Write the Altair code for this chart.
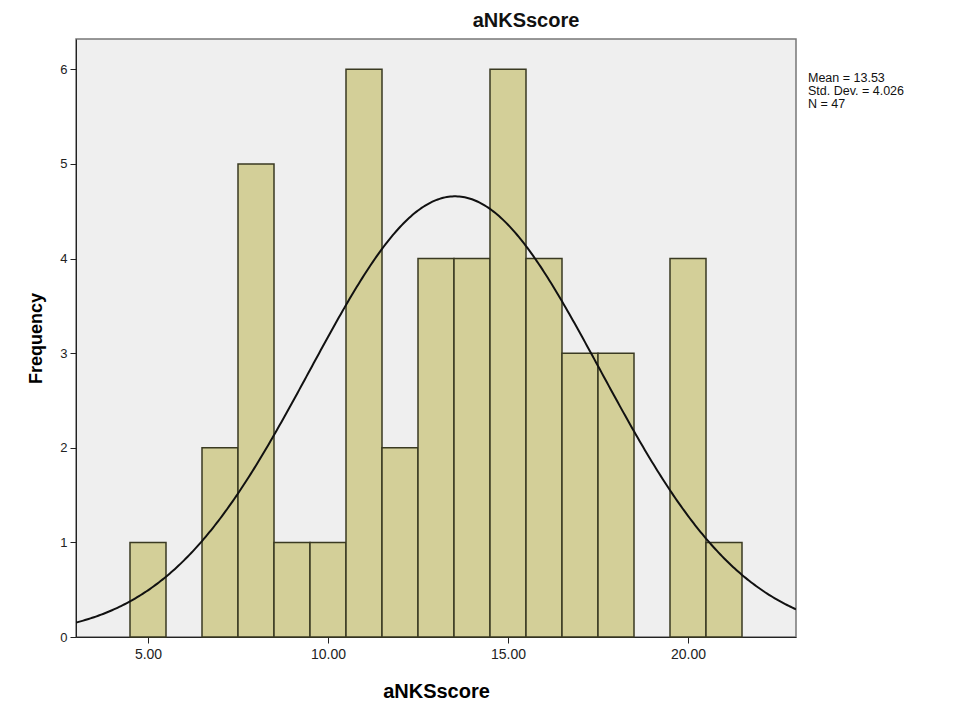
import altair as alt
import pandas as pd

# Histogram data (bin width 1, centered on integers)
bin_centers = [5, 7, 8, 9, 10, 11, 12, 13, 14, 15, 16, 17, 18, 20, 21]
counts = [1, 2, 5, 1, 1, 6, 2, 4, 4, 6, 4, 3, 3, 4, 1]
x_ticks = [5, 10, 15, 20]
y_ticks = [0, 1, 2, 3, 4, 5, 6]
stat_lines = ["Mean = 13.53", "Std. Dev. = 4.026", "N = 47"]
mean_val = 13.53
sd_val = 4.026
n_val = 47

FONT = "Liberation Sans"

bars_df = pd.DataFrame({
    "start": [c - 0.5 for c in bin_centers],
    "end": [c + 0.5 for c in bin_centers],
    "count": counts,
})

xscale = alt.Scale(domain=[3, 23], nice=False, zero=False)
yscale = alt.Scale(domain=[0, 6.32], nice=False)

bars = alt.Chart(bars_df).mark_rect(
    fill="#D3CF98", stroke="#3A3A22", strokeWidth=1.5
).encode(
    x=alt.X("start:Q", scale=xscale,
            axis=alt.Axis(values=x_ticks, format=".2f", title="aNKSscore",
                          grid=False, tickSize=6, labelFontSize=14,
                          labelPadding=4, titleFontSize=20, titlePadding=20,
                          titleFontWeight="bold", labelColor="#222",
                          domainColor="#222", tickColor="#222",
                          labelFont=FONT, titleFont=FONT)),
    x2="end:Q",
    y=alt.Y("count:Q", scale=yscale,
            axis=alt.Axis(values=y_ticks, format="d", title="Frequency",
                          grid=False, tickSize=6, labelFontSize=13,
                          labelPadding=3, titleFontSize=18, titlePadding=14,
                          titleFontWeight="bold", labelColor="#222",
                          domainColor="#222", tickColor="#222",
                          labelFont=FONT, titleFont=FONT)),
    y2=alt.datum(0),
)

curve = alt.Chart(alt.sequence(3, 23.001, 0.05, as_="xv")).transform_calculate(
    yv=f"{n_val} * 1 / ({sd_val} * sqrt(2 * PI)) * exp(-0.5 * pow((datum.xv - {mean_val}) / {sd_val}, 2))"
).mark_line(color="#111", strokeWidth=2, clip=True).encode(
    x=alt.X("xv:Q", scale=xscale),
    y=alt.Y("yv:Q", scale=yscale),
)

stat_layers = []
for i, line in enumerate(stat_lines):
    stat_layers.append(
        alt.Chart(pd.DataFrame({"line": [line]})).mark_text(
            align="left", baseline="middle", font=FONT, fontSize=12.5, color="#111"
        ).encode(
            x=alt.value(732),
            y=alt.value(39 + 13 * i),
            text="line:N",
        )
    )

chart = alt.layer(bars, curve, *stat_layers).properties(
    width=720,
    height=598,
    title=alt.Title("aNKSscore", font=FONT, fontSize=20, fontWeight="bold",
                    anchor="middle", dx=90, offset=8, color="#111"),
    autosize=alt.AutoSizeParams(type="none"),
    padding={"left": 68, "top": 31, "right": 150, "bottom": 72},
    background="white",
).configure_view(
    fill="#EFEFEF", stroke="#777", strokeWidth=1.5
)

chart.save("out.html", embed_options={"renderer": "svg", "actions": False})
